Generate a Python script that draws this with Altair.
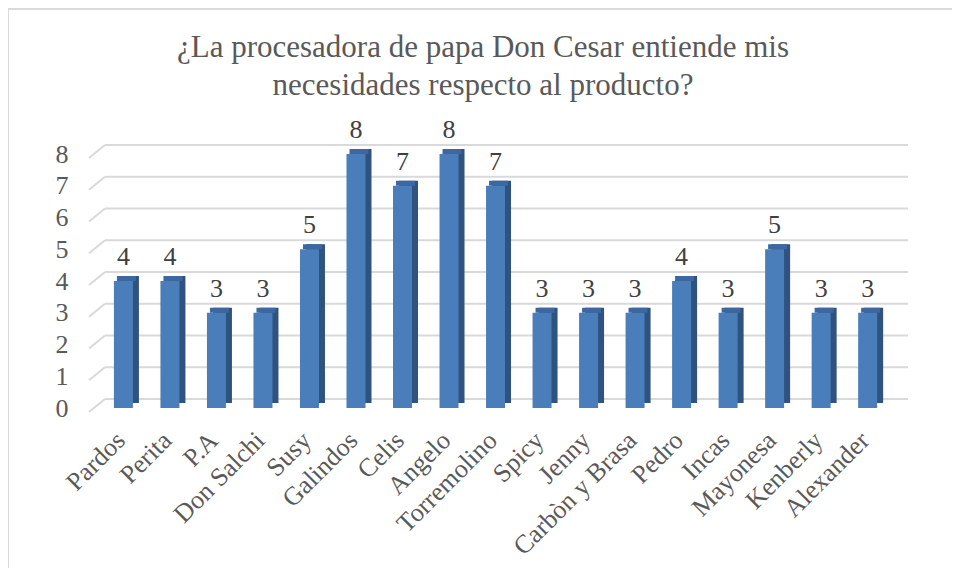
import altair as alt
import pandas as pd

names = ["Pardos", "Perita", "P.A", "Don Salchi", "Susy", "Galindos", "Celis",
         "Angelo", "Torremolino", "Spicy", "Jenny", "Carbòn y Brasa", "Pedro",
         "Incas", "Mayonesa", "Kenberly", "Alexander"]
values = [4, 4, 3, 3, 5, 8, 7, 8, 7, 3, 3, 3, 4, 3, 5, 3, 3]
y_ticks = [0, 1, 2, 3, 4, 5, 6, 7, 8]
title_lines = ["¿La procesadora de papa Don Cesar entiende mis",
               "necesidades respecto al producto?"]

df = pd.DataFrame({"idx": list(range(len(names))), "name": names, "value": values})
grid_df = pd.DataFrame({"value": y_ticks})
one = pd.DataFrame({"a": [0]})

FONT = "Liberation Serif, Times New Roman, DejaVu Serif, serif"
W, H = 820, 254

label_arr = "[" + ",".join("'" + n + "'" for n in names) + "]"

xscale = alt.Scale(domain=[-0.654, 16.76], nice=False, zero=False)
yscale = alt.Scale(domain=[0, 8], nice=False)

x_enc = alt.X("idx:Q", scale=xscale,
              axis=alt.Axis(values=list(range(len(names))),
                            labelExpr=label_arr + "[datum.value]",
                            labelAngle=-45, labelAlign="right", labelBaseline="middle",
                            labelFont=FONT, labelFontSize=26, labelColor="#595959",
                            labelPadding=28, labelOffset=-3, domain=False, ticks=False,
                            grid=False, title=None, labelOverlap=False))
y_axis = alt.Axis(values=y_ticks, labelFont=FONT, labelFontSize=26,
                  labelColor="#595959", labelPadding=20, domain=False,
                  ticks=False, grid=False, title=None)
y_enc = alt.Y("value:Q", scale=yscale, axis=y_axis)

grid_diag = alt.Chart(grid_df).mark_rule(color="#D9D9D9", strokeWidth=2,
                                         yOffset=4, y2Offset=-9).encode(
    x=alt.value(1), x2=alt.value(17), y=y_enc, y2="value:Q")
grid_h = alt.Chart(grid_df).mark_rule(color="#D9D9D9", strokeWidth=2, yOffset=-9).encode(
    x=alt.value(17), x2=alt.value(W), y=y_enc)

side = alt.Chart(df).mark_bar(size=19, color="#2F527F", xOffset=6, yOffset=-5).encode(
    x=x_enc, y=y_enc)
top = alt.Chart(df).mark_bar(size=19, color="#3C67A0", xOffset=3, yOffset=-5).encode(
    x=x_enc, y=y_enc, y2=alt.Y2("value:Q"))
front = alt.Chart(df).mark_bar(size=19, color="#4A7EBB").encode(x=x_enc, y=y_enc)
labels = alt.Chart(df).mark_text(font=FONT, fontSize=26, color="#404040",
                                 baseline="alphabetic", dy=-16, dx=0).encode(
    x=x_enc, y=y_enc, text="value:Q")

title = alt.Chart(one).mark_text(text=title_lines, font=FONT, fontSize=31,
                                 lineHeight=38, color="#595959", align="center",
                                 baseline="alphabetic").encode(
    x=alt.value(395), y=alt.value(-97))
border = alt.Chart(one).mark_rect(filled=False, stroke="#D9D9D9", strokeWidth=2).encode(
    x=alt.value(-80), y=alt.value(-145), x2=alt.value(2000), y2=alt.value(2000))

chart = alt.layer(border, grid_diag, grid_h, side, top, front, labels, title).properties(
    width=W, height=H,
    autosize=alt.AutoSizeParams(type="none"),
    padding={"left": 80, "top": 146, "right": 44, "bottom": 160},
    background="white",
).configure_view(stroke=None)

chart.save("out.html", embed_options={"renderer": "svg", "actions": False})
